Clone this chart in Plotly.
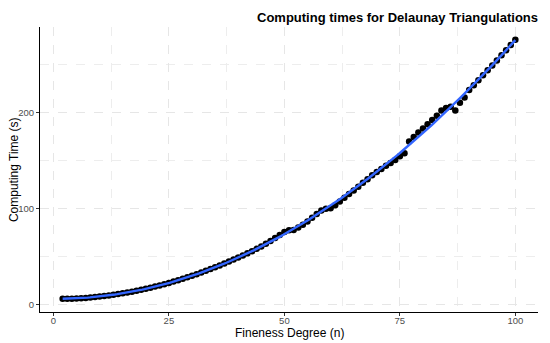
import numpy as np
import plotly.graph_objects as go

fineness = list(range(2, 101))
comp_time = [
    6.4, 6.3, 6.4, 6.6, 6.9, 7.2, 7.6, 8.1, 8.6, 9.2,
    9.8, 10.4, 11.2, 12.0, 12.8, 13.7, 14.7, 15.7, 16.8, 17.9,
    19.0, 20.2, 21.5, 22.8, 24.2, 25.6, 27.1, 28.7, 30.3, 31.9,
    33.6, 35.4, 37.2, 39.1, 41.0, 43.0, 45.0, 47.1, 49.2, 51.4,
    53.6, 55.9, 58.3, 60.8, 63.6, 66.6, 69.7, 72.8, 75.9, 77.6,
    78.0, 80.6, 83.5, 86.9, 90.6, 94.5, 98.2, 100.2, 100.6, 103.8,
    107.6, 111.5, 115.4, 119.0, 123.0, 127.1, 130.9, 135.0, 138.3, 141.6,
    145.0, 147.9, 150.9, 154.9, 158.0, 170.1, 174.8, 179.5, 183.8, 188.2,
    192.5, 197.0, 202.5, 205.0, 206.5, 202.5, 210.5, 216.0, 223.8, 228.8,
    234.0, 239.3, 244.3, 249.5, 254.6, 260.0, 265.2, 270.8, 276.2,
]
x_title = "Fineness Degree (n)"
y_title = "Computing Time (s)"
chart_title = "Computing times for Delaunay Triangulations"

x = np.array(fineness, dtype=float)
y = np.array(comp_time, dtype=float)
coef = np.polyfit(x, y, 3)
xs = np.linspace(x.min(), x.max(), 200)
ys = np.polyval(coef, xs)

fig = go.Figure()
fig.add_trace(go.Scatter(
    x=fineness, y=comp_time, mode="markers",
    marker=dict(color="black", size=6.5), showlegend=False,
))
fig.add_trace(go.Scatter(
    x=xs, y=ys, mode="lines",
    line=dict(color="#3366FF", width=2.4), showlegend=False,
))

axis_common = dict(
    automargin=False,
    showline=True, linecolor="black", linewidth=1,
    ticks="outside", ticklen=3, tickcolor="#333333", tickwidth=1,
    tickfont=dict(family="Liberation Sans, Arial, sans-serif", size=9.5, color="#4d4d4d"),
    showgrid=True, gridcolor="#e6e6e6", griddash="dash", gridwidth=1,
    zeroline=False,
    minor=dict(showgrid=True, gridcolor="#ededed", griddash="dash", gridwidth=1),
)

fig.update_layout(
    width=550, height=343,
    margin=dict(l=40, r=12, t=27, b=31, autoexpand=False),
    plot_bgcolor="white", paper_bgcolor="white",
    font=dict(family="Liberation Sans, Arial, sans-serif", color="black"),
    title=dict(
        text="<b>" + chart_title + "</b>",
        xref="paper", x=1.0, xanchor="right",
        yref="container", y=0.95, yanchor="middle",
        font=dict(size=13, color="black"),
    ),
    xaxis=dict(range=[-2.9, 104.9], tickvals=[0, 25, 50, 75, 100],
               ticklabelstandoff=-3, **axis_common),
    yaxis=dict(range=[-7.5, 289.5], tickvals=[0, 100, 200], **axis_common),
    annotations=[
        dict(text=x_title, xref="paper", yref="paper", x=0.5, y=-0.072,
             xanchor="center", yanchor="middle", showarrow=False,
             font=dict(size=12, color="black")),
        dict(text=y_title, xref="paper", yref="paper", x=-0.053, y=0.5,
             xanchor="center", yanchor="middle", showarrow=False, textangle=-90,
             font=dict(size=12, color="black")),
    ],
)
fig.update_xaxes(minor=dict(tickvals=[12.5, 37.5, 62.5, 87.5], ticks=""))
fig.update_yaxes(minor=dict(tickvals=[50, 150, 250], ticks=""))

fig.write_html(
    "out.html",
    config={"displayModeBar": False},
    post_script="document.body.style.margin='0';document.body.style.overflow='hidden';",
)
